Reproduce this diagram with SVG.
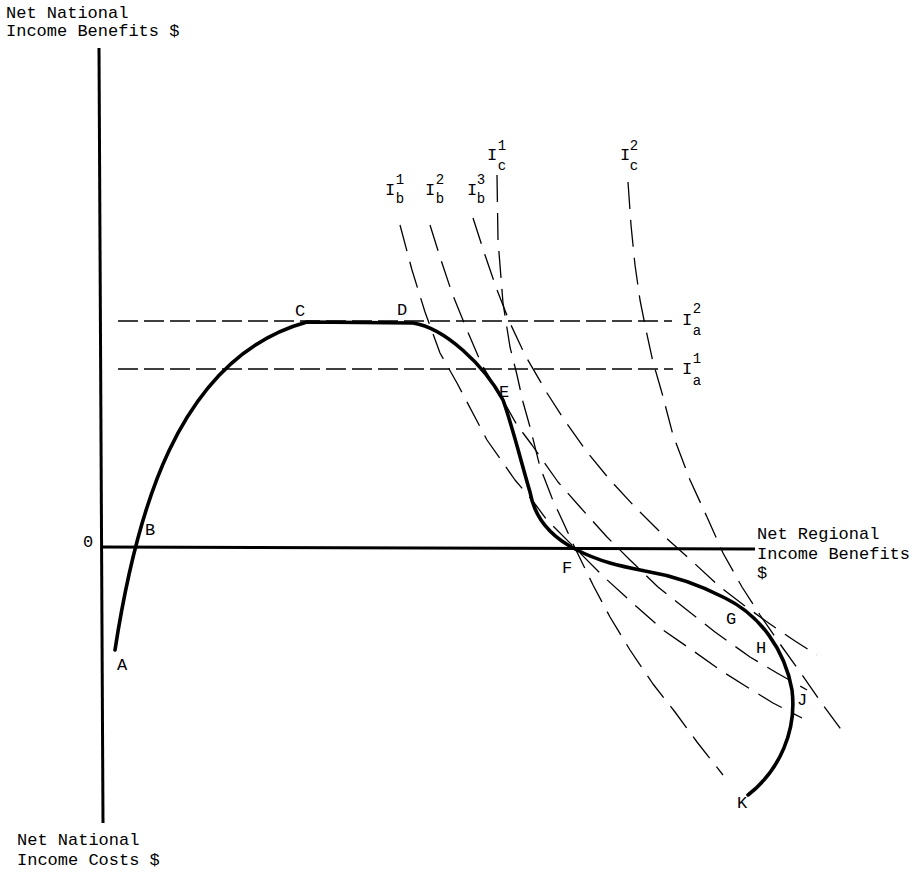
<svg xmlns="http://www.w3.org/2000/svg" width="916" height="874" viewBox="0 0 916 874">
<style>
.axis{stroke:#000;stroke-width:3;fill:none;stroke-linecap:butt}
.curve{stroke:#000;stroke-width:3.6;fill:none;stroke-linecap:round;stroke-linejoin:round}
.ind{stroke:#000;stroke-width:1.3;fill:none;stroke-dasharray:27 11;stroke-linejoin:round}
.hz{stroke-dasharray:20 6}
text{font-family:"Liberation Mono","Courier New",monospace;font-size:17px;fill:#000}
.pt{text-anchor:middle}
.ss{text-anchor:middle;font-size:14px}
</style>
<rect width="916" height="874" fill="#fff"/>
<g id="axes">
<line class="axis" x1="99" y1="48" x2="103" y2="823"/>
<line class="axis" x1="101" y1="547" x2="755" y2="549"/>
</g>
<g id="axis-labels">
<text x="6" y="18">Net National</text>
<text x="6" y="36">Income Benefits $</text>
<text x="17" y="845">Net National</text>
<text x="17" y="865">Income Costs $</text>
<text x="757" y="539">Net Regional</text>
<text x="757" y="559">Income Benefits</text>
<text x="757" y="578">$</text>
</g>
<g id="indifference-curves">
<line class="ind hz" x1="118" y1="321" x2="672" y2="321"/>
<line class="ind hz" x1="118" y1="369" x2="673" y2="369"/>
<path id="Ib1" class="ind" d="M400,225 L412,270 L425,312 L440,353 L457,383 L487,440 L515,480 L532,500 L547,520 L575,548 L605,578 L637,607 L663,630 L692,650 L720,670 L747,687 L773,703 L802,718"/>
<path id="Ib2" class="ind" d="M430,225 L440,257 L452,293 L467,330 L482,365 L500,395 L517,425 L532,445 L558,482 L580,507 L607,537 L630,560 L658,587 L687,610 L715,632 L750,657 L777,673 L807,690"/>
<path id="Ib3" class="ind" d="M473,218 L485,255 L497,290 L510,323 L525,355 L547,393 L563,418 L587,452 L610,480 L635,507 L663,535 L693,562 L720,587 L745,606 L770,624 L795,641 L817,655"/>
<path id="Ic1" class="ind" d="M497,175 L498,240 L503,303 L510,347 L517,375 L523,402 L530,427 L540,467 L552,498 L575,548 L593,585 L610,617 L630,650 L653,684 L675,712 L697,742 L723,775"/>
<path id="Ic2" class="ind" d="M628,182 L631,225 L635,265 L640,300 L646,330 L653,362 L662,393 L673,435 L690,480 L707,517 L723,553 L742,587 L760,615 L780,644 L800,672 L823,705 L843,732"/>
</g>
<g id="curve">
<path class="curve" d="M115,650 C135,520 175,358 307,322 L413,323 C445,328 484,365 503,400 C512,425 522,465 530,492 C534,515 548,535 575,549 C600,562 620,566 645,571 C675,576 700,585 725,598 C760,615 785,650 792,690 C797,730 780,770 748,795"/>
</g>
<g id="point-labels">
<text class="pt" x="88" y="547">0</text>
<text class="pt" x="122" y="670">A</text>
<text class="pt" x="150" y="535">B</text>
<text class="pt" x="300" y="316">C</text>
<text class="pt" x="402" y="315">D</text>
<text class="pt" x="504" y="397">E</text>
<text class="pt" x="567" y="573">F</text>
<text class="pt" x="731" y="624">G</text>
<text class="pt" x="761" y="653">H</text>
<text class="pt" x="802" y="705">J</text>
<text class="pt" x="742" y="808">K</text>
</g>
<g id="curve-labels">
<g id="label-Ib1"><text class="pt" x="390" y="195">I</text><text class="ss" x="400" y="184">1</text><text class="ss" x="400" y="203">b</text></g>
<g id="label-Ib2"><text class="pt" x="430" y="195">I</text><text class="ss" x="440" y="184">2</text><text class="ss" x="440" y="203">b</text></g>
<g id="label-Ib3"><text class="pt" x="472" y="195">I</text><text class="ss" x="481" y="184">3</text><text class="ss" x="481" y="203">b</text></g>
<g id="label-Ic1"><text class="pt" x="492" y="160">I</text><text class="ss" x="502" y="150">1</text><text class="ss" x="502" y="170">c</text></g>
<g id="label-Ic2"><text class="pt" x="625" y="160">I</text><text class="ss" x="634" y="150">2</text><text class="ss" x="634" y="170">c</text></g>
<g id="label-Ia2"><text class="pt" x="687" y="325">I</text><text class="ss" x="697" y="313">2</text><text class="ss" x="697" y="335">a</text></g>
<g id="label-Ia1"><text class="pt" x="687" y="374">I</text><text class="ss" x="697" y="363">1</text><text class="ss" x="697" y="385">a</text></g>
</g>
</svg>
